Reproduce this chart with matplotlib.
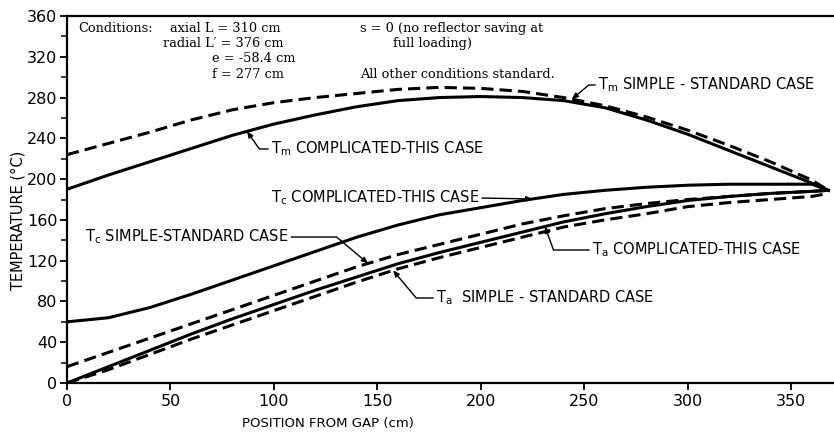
import matplotlib
matplotlib.use("Agg")
import matplotlib.pyplot as plt
import numpy as np
from matplotlib.ticker import MultipleLocator

# ---- data ----
position = [0, 20, 40, 60, 80, 100, 120, 140, 160, 180, 200, 220, 240, 260, 280, 300, 320, 340, 360, 368]
tm_complicated = [190, 204, 217, 230, 243, 254, 263, 271, 277, 280, 281, 280, 277, 270, 258, 244, 228, 212, 196, 189]
tm_simple = [224, 235, 246, 258, 268, 275, 280, 284, 288, 290, 289, 286, 280, 272, 261, 248, 233, 217, 199, 189]
tc_complicated = [60, 64, 74, 87, 101, 115, 129, 143, 155, 165, 172, 179, 185, 189, 192, 194, 195, 195, 195, 189]
tc_simple = [16, 30, 44, 58, 72, 86, 100, 114, 126, 136, 146, 156, 164, 171, 176, 180, 183, 186, 188, 189]
ta_complicated = [0, 16, 32, 48, 63, 77, 91, 104, 117, 128, 138, 148, 158, 166, 173, 179, 183, 186, 188, 189]
ta_simple = [0, 13, 28, 43, 57, 71, 85, 99, 112, 123, 133, 143, 153, 160, 166, 173, 177, 180, 183, 186]

x_ticks = [0, 50, 100, 150, 200, 250, 300, 350]
y_ticks = [0, 40, 80, 120, 160, 200, 240, 280, 320, 360]

conditions_left = ["axial L = 310 cm", "radial L\u2032 = 376 cm", "e = -58.4 cm", "f = 277 cm"]

W, H = 834, 434
fig = plt.figure(figsize=(W / 100, H / 100), dpi=100)
ax = fig.add_axes([67 / W, 1 - 383 / H, 1 - 67 / W, (383 - 16) / H])
ax.set_xlim(0, 370.7)
ax.set_ylim(0, 360)

LW = 2.2
dash = (0, (4, 2))
ax.plot(position, tm_complicated, color="black", lw=LW)
ax.plot(position, tm_simple, color="black", lw=LW, ls=dash)
ax.plot(position, tc_complicated, color="black", lw=LW)
ax.plot(position, tc_simple, color="black", lw=LW, ls=dash)
ax.plot(position, ta_complicated, color="black", lw=LW)
ax.plot(position, ta_simple, color="black", lw=LW, ls=dash)

# spines / ticks
for s in ["left", "bottom", "top"]:
    ax.spines[s].set_linewidth(1.6)
ax.spines["right"].set_visible(False)
ax.set_xticks(x_ticks)
ax.set_yticks(y_ticks)
ax.yaxis.set_minor_locator(MultipleLocator(20))
ax.tick_params(axis="both", which="major", direction="out", length=5, width=1.3,
               labelsize=11.5, pad=2)
ax.tick_params(axis="y", which="minor", direction="out", length=4, width=1.1)
ax.tick_params(axis="x", which="major", pad=3)

fig.text(18 / W, 1 - 220 / H, "TEMPERATURE (\u00b0C)", rotation=90, ha="center", va="center",
         fontsize=10.5)
fig.text(328 / W, 1 - 424 / H, "POSITION FROM GAP (cm)", ha="center", va="center", fontsize=9.5)

# conditions block (serif)
def px(xp, yp):
    return (xp - 67) / 2.069, (383 - yp) / 1.0194

serif = dict(family="DejaVu Serif", fontsize=9.3, va="center", ha="left")
ax.text(*px(78, 29), "Conditions:", **serif)
lefts = [170, 163, 212, 212]
ys = [29, 44, 59, 75]
for s, xl, yl in zip(conditions_left, lefts, ys):
    ax.text(*px(xl, yl), s, **serif)
ax.text(*px(360, 29), "s = 0 (no reflector saving at", **serif)
ax.text(*px(393, 44), "full loading)", **serif)
ax.text(*px(360, 75), "All other conditions standard.", **serif)

# curve labels with leaders
ap = dict(arrowstyle="-|>,head_length=0.35,head_width=0.15", color="black", lw=1.0,
          shrinkA=0, shrinkB=0)

def annot(text, series, xc, tx, ty, conn, relpos=(0, 0.5), ha="left"):
    yc = float(np.interp(xc, position, series))
    d = dict(ap)
    d["connectionstyle"] = conn
    d["relpos"] = relpos
    ax.annotate(text, xy=(xc, yc), xytext=px(tx, ty), textcoords="data",
                arrowprops=d, fontsize=10.5, va="center", ha=ha)

annot(r"T$_{\rm m}$ SIMPLE - STANDARD CASE", tm_simple, 244, 598, 85,
      "angle,angleA=180,angleB=40,rad=0")
annot(r"T$_{\rm m}$ COMPLICATED-THIS CASE", tm_complicated, 87, 271, 149,
      "angle,angleA=180,angleB=-55,rad=0")
annot(r"T$_{\rm c}$ COMPLICATED-THIS CASE", tc_complicated, 225, 271, 198,
      "arc3", relpos=(1, 0.5))
annot(r"T$_{\rm c}$ SIMPLE-STANDARD CASE", tc_simple, 145.5, 85, 237,
      "angle,angleA=0,angleB=140,rad=0", relpos=(1, 0.5))
annot(r"T$_{\rm a}$  SIMPLE - STANDARD CASE", ta_simple, 157.6, 436, 298,
      "angle,angleA=180,angleB=-50,rad=0")
annot(r"T$_{\rm a}$ COMPLICATED-THIS CASE", ta_complicated, 231, 592, 250,
      "angle,angleA=180,angleB=-70,rad=0")

fig.savefig("out.png", dpi=100)
